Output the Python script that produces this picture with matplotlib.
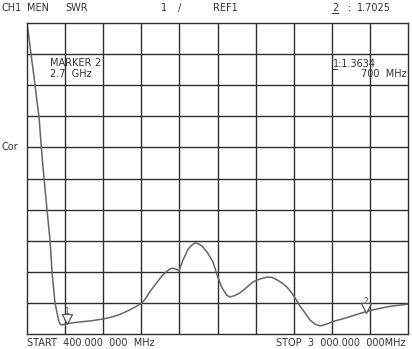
import matplotlib
matplotlib.use("Agg")
from matplotlib import pyplot as plt

# trace (MHz, SWR)
freq = [400, 414, 427, 441, 455, 468, 482, 499, 516, 536, 557, 571, 591, 605, 615,
        625, 639, 659, 693, 762, 830, 919, 980, 1035, 1103, 1151, 1185, 1212, 1239,
        1287, 1321, 1355, 1376, 1396, 1417, 1437, 1465, 1499, 1526, 1546, 1567, 1594,
        1628, 1669, 1697, 1731, 1765, 1785, 1819, 1853, 1894, 1942, 1990, 2038, 2072,
        2106, 2140, 2174, 2202, 2229, 2263, 2297, 2331, 2365, 2399, 2440, 2481, 2549,
        2618, 2686, 2754, 2823, 2891, 2946, 3000]
swr = [11.0, 10.52, 10.0, 9.52, 9.01, 8.49, 7.98, 6.92, 6.02, 5.02, 4.02, 2.99, 2.0, 1.68, 1.45,
       1.32, 1.29, 1.32, 1.35, 1.39, 1.42, 1.48, 1.55, 1.63, 1.78, 1.90, 2.0, 2.16, 2.36,
       2.66, 2.87, 3.02, 3.09, 3.12, 3.08, 3.04, 3.38, 3.73, 3.86, 3.93, 3.91, 3.83,
       3.64, 3.32, 2.90, 2.48, 2.24, 2.19, 2.24, 2.32, 2.48, 2.67, 2.77, 2.83, 2.82,
       2.74, 2.64, 2.51, 2.35, 2.16, 1.90, 1.68, 1.45, 1.32, 1.26, 1.31, 1.39, 1.48,
       1.58, 1.68, 1.77, 1.84, 1.90, 1.93, 1.96]

marker_freq = [673, 2713]
marker_swr = [1.36, 1.70]
marker_names = ["1", "2"]

x_start, x_stop = 400, 3000
y_bottom, y_top = 1, 11

fig = plt.figure(figsize=(4.12, 3.49), dpi=100)
ax = fig.add_axes([27 / 412, 1 - 334 / 349, 381 / 412, 311 / 349])
ax.set_xlim(x_start, x_stop)
ax.set_ylim(y_bottom, y_top)

# 10 x 10 graticule
step_x = (x_stop - x_start) / 10
step_y = (y_top - y_bottom) / 10
for i in range(1, 10):
    ax.axvline(x_start + i * step_x, color="#2e2e2e", lw=1.0)
    ax.axhline(y_bottom + i * step_y, color="#2e2e2e", lw=1.0)
for s in ax.spines.values():
    s.set_color("#2e2e2e")
    s.set_linewidth(1.0)
ax.set_xticks([])
ax.set_yticks([])

ax.plot(freq, swr, color="#666666", lw=1.1, clip_on=True)

for f, s, name in zip(marker_freq, marker_swr, marker_names):
    ax.plot(f, s + 0.12, marker="v", ms=6.5, mfc="white", mec="#555555", mew=0.9)
    ax.text(f, s + 0.36, name, fontsize=5.5, color="#555555", ha="center", va="center")

font = dict(fontsize=7, color="#333333", family="DejaVu Sans")

# header line
fig.text(2 / 412, 1 - 8 / 349, "CH1", va="center", **font)
fig.text(27 / 412, 1 - 8 / 349, "MEN", va="center", **font)
fig.text(65 / 412, 1 - 8 / 349, "SWR", va="center", **font)
fig.text(161 / 412, 1 - 8 / 349, "1", va="center", **font)
fig.text(178 / 412, 1 - 8 / 349, "/", va="center", **font)
fig.text(213 / 412, 1 - 8 / 349, "REF1", va="center", **font)
fig.text(332 / 412, 1 - 8 / 349, "2", va="center", **font)
fig.text(348 / 412, 1 - 8 / 349, ":", va="center", **font)
fig.text(357 / 412, 1 - 8 / 349, "1.7025", va="center", **font)
fig.add_artist(plt.Line2D([332 / 412, 338 / 412], [1 - 13 / 349, 1 - 13 / 349],
                          color="#333333", lw=0.7))

fig.text(2 / 412, 1 - 147 / 349, "Cor", va="center", **font)

# marker readout inside the grid
fig.text(50 / 412, 1 - 63 / 349, "MARKER", va="center", **font)
fig.text(94 / 412, 1 - 63 / 349, "2", va="center", **font)
fig.text(50 / 412, 1 - 74 / 349, "2.7  GHz", va="center", **font)
fig.text(333 / 412, 1 - 64 / 349, "1:1.3634", va="center", **font)
fig.text(407 / 412, 1 - 74 / 349, "700  MHz", va="center", ha="right", **font)
fig.add_artist(plt.Line2D([333 / 412, 337 / 412], [1 - 69 / 349, 1 - 69 / 349],
                          color="#333333", lw=0.7))

# footer
fig.text(27 / 412, 1 - 343 / 349, "START  400.000  000  MHz", va="center", **font)
fig.text(406 / 412, 1 - 343 / 349, "STOP  3  000.000  000MHz", va="center", ha="right", **font)

fig.savefig("out.png", dpi=100, facecolor="white")
